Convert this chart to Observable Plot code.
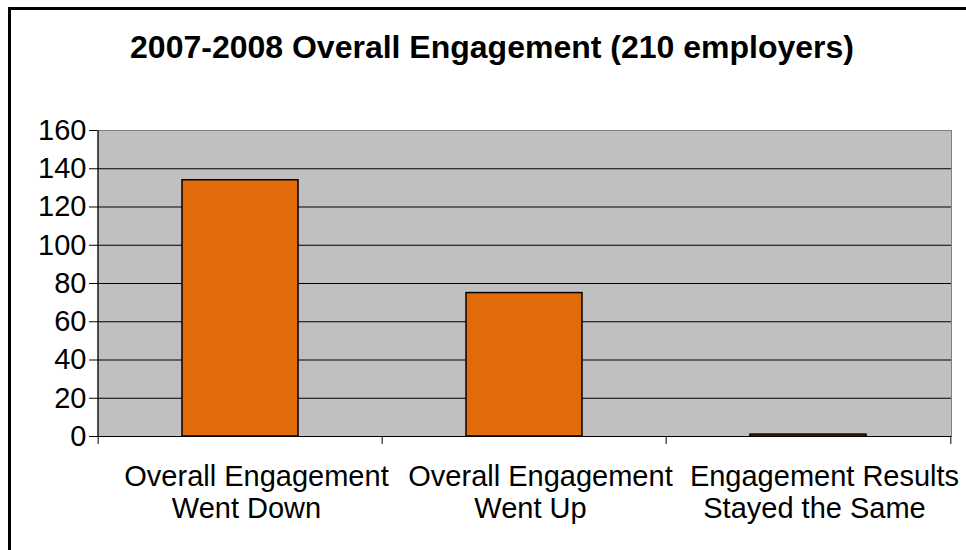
<!DOCTYPE html>
<html>
<head>
<meta charset="utf-8">
<script src="https://cdn.jsdelivr.net/npm/d3@7"></script>
<script src="https://cdn.jsdelivr.net/npm/@observablehq/plot@0.6"></script>
<style>
  html, body { margin: 0; padding: 0; background: #fff; }
  #wrap { position: relative; width: 966px; height: 550px; overflow: hidden; font-family: "Liberation Sans", Arial, sans-serif; }
  #border { position: absolute; left: 8px; top: 7px; width: 1000px; height: 600px; border-left: 3px solid #000; border-top: 3px solid #000; box-sizing: border-box; }
  #title { position: absolute; left: 18px; width: 948px; top: 32px; line-height: 31px; text-align: center; font-weight: bold; font-size: 32px; color: #000; }
  #chart { position: absolute; left: 0; top: 0; }
</style>
</head>
<body>
<div id="wrap">
  <div id="chart"></div>
  <div id="border"></div>
  <div id="title">2007-2008 Overall Engagement (210 employers)</div>
</div>
<script>
const categories = ["Overall Engagement Went Down", "Overall Engagement Went Up", "Engagement Results Stayed the Same"];
const labelsTop = ["Overall Engagement", "Overall Engagement", "Engagement Results"];
const labelsBottom = ["Went Down", "Went Up", "Stayed the Same"];
const values = [134, 75, 1];
const yTicks = [0, 20, 40, 60, 80, 100, 120, 140, 160];
const gridTicks = [0, 20, 40, 60, 80, 100, 120, 140];

const data = categories.map((c, i) => ({category: c, value: values[i], top: labelsTop[i], bottom: labelsBottom[i]}));

const W = 966, H = 550, mL = 97, mR = 15, mT = 130, mB = 114;
const bw = (W - mL - mR) / categories.length;

const chart = Plot.plot({
  width: W,
  height: H,
  marginLeft: mL,
  marginRight: mR,
  marginTop: mT,
  marginBottom: mB,
  style: {fontFamily: "'Liberation Sans', Arial, sans-serif", background: "transparent", color: "#000", overflow: "visible"},
  x: {domain: categories, paddingInner: 0.593, paddingOuter: 0.2965, align: 0.5, axis: null},
  y: {domain: [0, 160], axis: null},
  marks: [
    Plot.frame({fill: "#c0c0c0", stroke: "#808080"}),
    Plot.ruleY(gridTicks, {stroke: "#000", strokeWidth: 1}),
    Plot.ruleX([categories[0]], {dx: -bw / 2, stroke: "#000"}),
    Plot.axisY({ticks: yTicks, tickSize: 8, tickPadding: 3, fontSize: 29, stroke: "#000", fill: "#000", label: null}),
    Plot.axisX({ticks: categories, tickSize: 8, dx: -bw / 2, tickFormat: () => "", label: null, stroke: "#000"}),
    Plot.axisX({ticks: [categories[2]], tickSize: 8, dx: bw / 2, tickFormat: () => "", label: null, stroke: "#000"}),
    Plot.barY(data, {x: "category", y: "value", fill: "#e36c0a", stroke: "#000", strokeWidth: 1.5}),
    Plot.text(data, {x: "category", y: 0, text: "top", dy: 40, dx: 16, fontSize: 29, fill: "#000"}),
    Plot.text(data, {x: "category", y: 0, text: "bottom", dy: 72.5, dx: 6, fontSize: 29, fill: "#000"})
  ]
});
document.getElementById("chart").appendChild(chart);
</script>
</body>
</html>
